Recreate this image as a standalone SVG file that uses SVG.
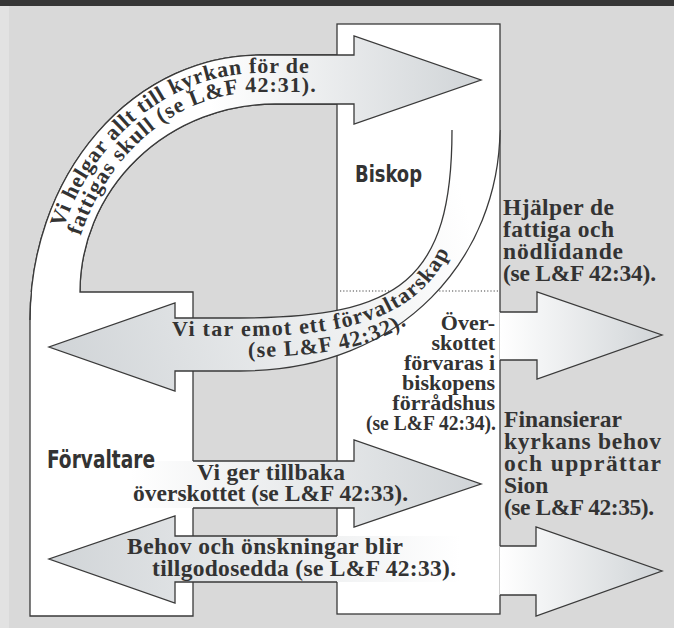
<svg xmlns="http://www.w3.org/2000/svg" width="674" height="628" viewBox="0 0 674 628">
<defs>
<style>
.node{fill:#fff;stroke:#3a3a3a;stroke-width:1.3}
.edge{fill:none;stroke:#3a3a3a;stroke-width:1.3;stroke-linejoin:miter}
.t{font-family:'Liberation Serif','DejaVu Serif',serif;font-weight:bold;fill:#333;font-size:23.5px}
.tc{font-size:22px}
.h{font-family:'Liberation Sans Narrow','DejaVu Sans Condensed','Liberation Sans',sans-serif;font-stretch:condensed;font-weight:bold;fill:#333}
.dot{fill:none;stroke:#444;stroke-width:1.2;stroke-dasharray:1.2 2}
</style>
<linearGradient id="gHelgar" gradientUnits="userSpaceOnUse" x1="210" y1="0" x2="481" y2="0"><stop offset="0" stop-color="#fff"/><stop offset="1" stop-color="#d0d4d7"/></linearGradient>
<linearGradient id="gTar" gradientUnits="userSpaceOnUse" x1="470" y1="220" x2="49" y2="347"><stop offset="0" stop-color="#fff"/><stop offset="1" stop-color="#d0d4d7"/></linearGradient>
<linearGradient id="gGer" gradientUnits="userSpaceOnUse" x1="130" y1="0" x2="481" y2="0"><stop offset="0" stop-color="#fff"/><stop offset="1" stop-color="#d0d4d7"/></linearGradient>
<linearGradient id="gBehov" gradientUnits="userSpaceOnUse" x1="460" y1="0" x2="49" y2="0"><stop offset="0" stop-color="#fff"/><stop offset="1" stop-color="#d0d4d7"/></linearGradient>
<linearGradient id="gRight" gradientUnits="userSpaceOnUse" x1="500" y1="0" x2="662" y2="0"><stop offset="0" stop-color="#fff"/><stop offset="1" stop-color="#d0d4d7"/></linearGradient>
<path id="p1" d="M63.3,228 A212 247 0 0 1 260,73 L360,73"/>
<path id="p2" d="M80.5,236 A193 228 0 0 1 260,92 L360,92"/>
<path id="p3" d="M172,336 L245,336 C390,336 466,300 470,150"/>
<path id="p4" d="M248,357 C385,357 465,322 482,190"/>
</defs>

<rect x="0" y="0" width="674" height="628" fill="#d9d9d9"/>
<rect x="0" y="0" width="9" height="628" fill="#e2e2e2"/>
<rect x="0" y="0" width="674" height="6" fill="#363636"/>

<g id="node-forvaltare">
<path class="node" d="M30,616 L30,320 A230 265 0 0 1 260,55 L337,55 L337,104 L275,104 A195 188 0 0 0 80,292 L193,292 L193,616 Z"/>
</g>

<g id="node-biskop">
<rect class="node" x="337" y="24" width="163" height="590"/>
<line class="dot" x1="340" y1="291" x2="500" y2="291"/>
</g>

<g id="connectors">
<g id="arrow-helgar">
<path fill="url(#gHelgar)" d="M30,320 A230 265 0 0 1 260,55 L354,55 L354,36 L481,80 L354,124 L354,104 L275,104 A195 188 0 0 0 80,292 L30,292 Z"/>
<path class="edge" d="M30,320 A230 265 0 0 1 260,55 L354,55 L354,36 L481,80 L354,124 L354,104 L275,104 A195 188 0 0 0 80,292"/>
<text class="t tc" letter-spacing="0.86"><textPath href="#p1">Vi helgar allt till kyrkan för de</textPath></text>
<text class="t tc" letter-spacing="1"><textPath href="#p2">fattigas skull (se L&amp;F 42:31).</textPath></text>
</g>
<g id="arrow-tar">
<path fill="url(#gTar)" d="M452,130 C452,280 400,318 240,318 L175,318 L175,303 L49,347 L175,391 L175,371 L240,371 C405,371 499,255 500,130 Z"/>
<path class="edge" d="M452,130 C452,280 400,318 240,318 L175,318 L175,303 L49,347 L175,391 L175,371 L240,371 C405,371 499,255 500,130"/>
<text class="t tc" letter-spacing="1.3"><textPath href="#p3">Vi tar emot ett förvaltarskap</textPath></text>
<text class="t tc" letter-spacing="1.25"><textPath href="#p4">(se L&amp;F 42:32).</textPath></text>
</g>
<g id="arrow-ger">
<path fill="url(#gGer)" d="M130,461 L354,461 L354,440 L481,484 L354,527 L354,508 L130,508 Z"/>
<path class="edge" d="M193,461 L354,461 L354,440 L481,484 L354,527 L354,508 L193,508"/>
<text class="t" x="197" y="480" textLength="148">Vi ger tillbaka</text>
<text class="t" x="133" y="501" textLength="275">överskottet (se L&amp;F 42:33).</text>
</g>
<g id="arrow-behov">
<path fill="url(#gBehov)" d="M460,536 L175,536 L175,516 L49,559 L175,603 L175,582 L460,582 Z"/>
<path class="edge" d="M337,536 L175,536 L175,516 L49,559 L175,603 L175,582 L337,582"/>
<text class="t" x="127" y="554" textLength="276">Behov och önskningar blir</text>
<text class="t" x="152" y="576" textLength="304">tillgodosedda (se L&amp;F 42:33).</text>
</g>
<g id="arrow-hjalper">
<path fill="url(#gRight)" d="M499.4,312 L537,312 L537,292 L662,335 L537,379 L537,360 L499.4,360 Z"/>
<path class="edge" d="M500,312 L537,312 L537,292 L662,335 L537,379 L537,360 L500,360"/>
</g>
<g id="arrow-finansierar">
<path fill="url(#gRight)" d="M499.4,546 L536,546 L536,527 L662,571 L536,616 L536,595 L499.4,595 Z"/>
<path class="edge" d="M500,546 L536,546 L536,527 L662,571 L536,616 L536,595 L500,595"/>
</g>
</g>

<g id="label-forvaltare">
<text class="h" x="47" y="468" font-size="24" textLength="108" lengthAdjust="spacingAndGlyphs">Förvaltare</text>
</g>
<g id="label-biskop">
<text class="h" x="355" y="182" font-size="23" textLength="67" lengthAdjust="spacingAndGlyphs">Biskop</text>
</g>
<g id="label-overskottet" class="t tc">
<text x="495" y="330" text-anchor="end">Över-</text>
<text x="495" y="350" text-anchor="end">skottet</text>
<text x="495" y="370" text-anchor="end">förvaras i</text>
<text x="495" y="390" text-anchor="end">biskopens</text>
<text x="495" y="410" text-anchor="end">förrådshus</text>
<text x="366" y="430" textLength="130" lengthAdjust="spacingAndGlyphs">(se L&amp;F 42:34).</text>
</g>
<g id="label-hjalper" class="t">
<text x="503" y="215" textLength="111">Hjälper de</text>
<text x="503" y="237" textLength="111">fattiga och</text>
<text x="503" y="259" textLength="120">nödlidande</text>
<text x="503" y="281" textLength="153">(se L&amp;F 42:34).</text>
</g>
<g id="label-finansierar" class="t">
<text x="504" y="427" textLength="118">Finansierar</text>
<text x="504" y="449" textLength="157">kyrkans behov</text>
<text x="504" y="471" textLength="157">och upprättar</text>
<text x="504" y="493">Sion</text>
<text x="504" y="515" textLength="150">(se L&amp;F 42:35).</text>
</g>
</svg>
